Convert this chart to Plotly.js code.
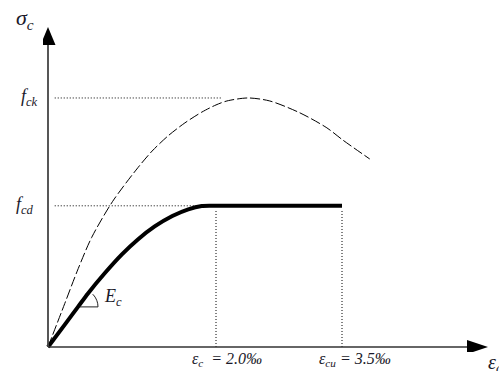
<!DOCTYPE html>
<html>
<head>
<meta charset="utf-8">
<script src="https://cdn.plot.ly/plotly-3.0.1.min.js"></script>
<style>html,body{margin:0;padding:0;background:#fff;}#chart{width:499px;height:371px;}</style>
</head>
<body>
<div id="chart"></div>
<script>
// characteristic stress-strain curve (dashed), stress normalised to fck = 1, strain in ‰
const strainChar = [0, 0.20, 0.36, 0.52, 0.77, 1.07, 1.24, 1.43, 1.63, 1.83, 2.00, 2.13, 2.38, 2.64, 3.00, 3.32, 3.51, 3.83];
const stressChar = [0, 0.175, 0.315, 0.44, 0.585, 0.72, 0.787, 0.848, 0.90, 0.943, 0.972, 0.988, 1.00, 0.988, 0.94, 0.88, 0.831, 0.755];
// design parabola-rectangle curve (thick)
const strainDesign = [0, 0.20, 0.357, 0.476, 0.68, 0.88, 1.07, 1.27, 1.48, 1.67, 1.83, 1.95, 3.50];
const stressDesign = [0, 0.09, 0.161, 0.215, 0.298, 0.372, 0.432, 0.484, 0.526, 0.553, 0.566, 0.567, 0.567];
const fck = 1.0, fcd = 0.567;
const epsC2 = 2.0, epsCu = 3.5;
const ecPoint = [0.381, 0.161];
const xTip = 5.238, yTip = 1.285;
const labels = {
  sigma: '<i>σ<sub>c</sub></i>', fck: '<i>f<sub>ck</sub></i>', fcd: '<i>f<sub>cd</sub></i>',
  ec2: '<i>ε<sub>c</sub>  = 2.0‰</i>', ecu: '<i>ε<sub>cu</sub> = 3.5‰</i>', eps: '<i>ε<sub>c</sub></i>', Ec: '<i>E<sub>c</sub></i>'
};
const dot = '1px,2px';
const traces = [
  {x:[0.08, 2.08], y:[fck, fck], mode:'lines', line:{color:'#000', width:1, dash:dot}},
  {x:[0.08, 1.81], y:[fcd, fcd], mode:'lines', line:{color:'#000', width:1, dash:dot}},
  {x:[epsC2, epsC2], y:[0, fcd-0.015], mode:'lines', line:{color:'#000', width:1, dash:dot}},
  {x:[epsCu, epsCu], y:[0, fcd-0.015], mode:'lines', line:{color:'#000', width:1, dash:dot}},
  {x:strainChar, y:stressChar, mode:'lines', line:{color:'#000', width:1, dash:'10px,3px', shape:'spline', smoothing:0.8}},
  {x:strainDesign, y:stressDesign, mode:'lines', line:{color:'#000', width:4, shape:'spline', smoothing:0.6}}
];
const fnt = {family:'"Liberation Serif", "DejaVu Serif", serif', color:'#1a1a2a'};
const layout = {
  width:499, height:371, showlegend:false,
  paper_bgcolor:'#fff', plot_bgcolor:'rgba(0,0,0,0)',
  margin:{l:43, r:11, t:27, b:19},
  xaxis:{range:[-0.0595, xTip], visible:false, fixedrange:true},
  yaxis:{range:[-0.0201, yTip], visible:false, fixedrange:true},
  shapes:[
    {type:'line', xref:'x', yref:'y', x0:0, y0:0, x1:0, y1:yTip-0.05, line:{color:'#444', width:1.8}},
    {type:'line', xref:'x', yref:'y', x0:0, y0:0, x1:xTip-0.2, y1:0, line:{color:'#333', width:1.5}},
    {type:'path', xref:'x', yref:'y', xsizemode:'pixel', ysizemode:'pixel', xanchor:0, yanchor:yTip,
     path:'M-7.5,-18 L7.5,-18 L0,0 Z', fillcolor:'#000', line:{width:0}},
    {type:'path', xref:'x', yref:'y', xsizemode:'pixel', ysizemode:'pixel', xanchor:xTip, yanchor:0,
     path:'M-21,7 L-21,-7 L0,0 Z', fillcolor:'#000', line:{width:0}},
    {type:'path', xref:'x', yref:'y', xsizemode:'pixel', ysizemode:'pixel', xanchor:ecPoint[0], yanchor:ecPoint[1],
     path:'M0,0 L18,0 L17.73,3.13 L16.91,6.16 L15.59,9 L14.3,10.9 L12.7,12.7', line:{color:'#222', width:1}}
  ],
  annotations:[
    {xref:'x', yref:'y', x:0, y:yTip, text:labels.sigma, showarrow:false, xanchor:'right', yanchor:'middle', xshift:-12, yshift:8, font:Object.assign({size:22}, fnt)},
    {xref:'x', yref:'y', x:0, y:fck, text:labels.fck, showarrow:false, xanchor:'right', yanchor:'middle', xshift:-8, font:Object.assign({size:18}, fnt)},
    {xref:'x', yref:'y', x:0, y:fcd, text:labels.fcd, showarrow:false, xanchor:'right', yanchor:'middle', xshift:-12, font:Object.assign({size:18}, fnt)},
    {xref:'x', yref:'y', x:epsC2, y:0, text:labels.ec2, showarrow:false, xanchor:'center', yanchor:'top', xshift:11, yshift:-1, font:Object.assign({size:16}, fnt)},
    {xref:'x', yref:'y', x:epsCu, y:0, text:labels.ecu, showarrow:false, xanchor:'center', yanchor:'top', xshift:13, yshift:-1, font:Object.assign({size:16}, fnt)},
    {xref:'x', yref:'y', x:xTip, y:0, text:labels.eps, showarrow:false, xanchor:'left', yanchor:'top', xshift:-2, yshift:-2, font:Object.assign({size:20}, fnt)},
    {xref:'x', yref:'y', x:0.62, y:0.20, text:labels.Ec, showarrow:false, xanchor:'left', yanchor:'middle', xshift:2, font:Object.assign({size:18}, fnt)}
  ]
};
Plotly.newPlot('chart', traces, layout, {staticPlot:true, displayModeBar:false});
</script>
</body>
</html>
